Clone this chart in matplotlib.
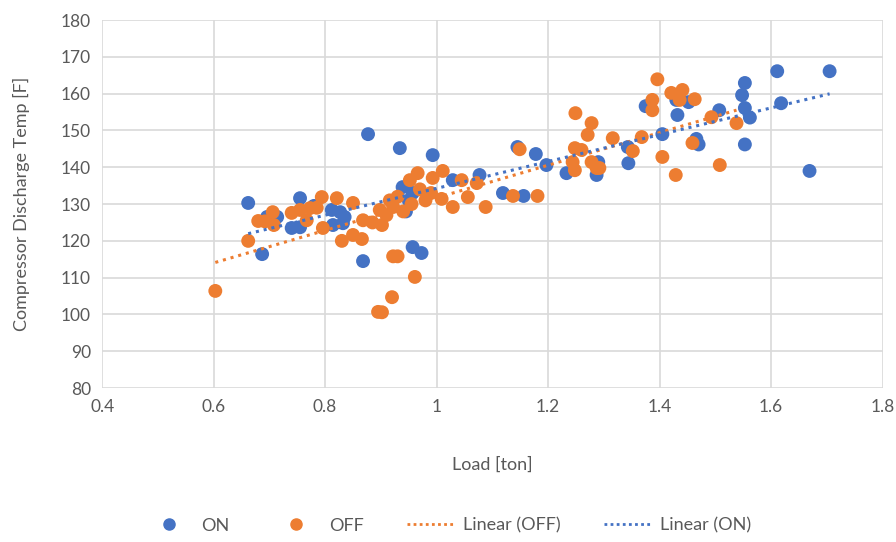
import numpy as np
import matplotlib.pyplot as plt
from matplotlib.lines import Line2D

# ON series (load [ton], discharge temp [F])
on_load = [0.662, 0.687, 0.696, 0.714, 0.740, 0.755, 0.755, 0.780, 0.812, 0.827,
           0.835, 0.814, 0.832, 0.868, 0.877, 0.934, 0.939, 0.957, 0.945, 0.950,
           0.957, 0.973, 0.993, 1.029, 1.077, 1.119, 1.156, 1.145, 1.178, 1.197,
           1.233, 1.287, 1.290, 1.344, 1.343, 1.375, 1.405, 1.432, 1.430, 1.452,
           1.466, 1.470, 1.507, 1.553, 1.548, 1.553, 1.562, 1.553, 1.611, 1.618,
           1.669, 1.705]
on_temp = [130.3, 116.4, 126.5, 126.5, 123.5, 123.7, 131.6, 129.5, 128.4, 127.8,
           126.5, 124.3, 124.8, 114.5, 149.0, 145.2, 134.6, 133.0, 128.0, 131.0,
           118.3, 116.7, 143.3, 136.5, 137.9, 133.0, 132.2, 145.5, 143.6, 140.6,
           138.4, 137.9, 141.4, 141.1, 145.5, 156.6, 149.0, 154.2, 158.3, 157.7,
           147.7, 146.2, 155.5, 162.9, 159.6, 156.1, 153.5, 146.2, 166.1, 157.4,
           139.0, 166.1]

# OFF series
off_load = [0.603, 0.662, 0.680, 0.692, 0.706, 0.708, 0.740, 0.755, 0.767, 0.773,
            0.785, 0.794, 0.796, 0.821, 0.830, 0.850, 0.850, 0.866, 0.868, 0.885,
            0.895, 0.902, 0.898, 0.902, 0.910, 0.916, 0.922, 0.920, 0.922, 0.930,
            0.930, 0.940, 0.955, 0.961, 0.952, 0.966, 0.970, 0.980, 0.990, 0.993,
            1.009, 1.011, 1.029, 1.045, 1.056, 1.072, 1.088, 1.137, 1.149, 1.181,
            1.244, 1.248, 1.248, 1.249, 1.260, 1.271, 1.278, 1.278, 1.287, 1.292,
            1.316, 1.352, 1.368, 1.387, 1.387, 1.396, 1.405, 1.421, 1.429, 1.436,
            1.441, 1.459, 1.463, 1.493, 1.508, 1.538]
off_temp = [106.4, 120.0, 125.4, 125.3, 127.8, 124.3, 127.6, 128.4, 125.6, 128.9,
            129.0, 131.9, 123.5, 131.6, 120.0, 121.6, 130.3, 120.5, 125.6, 125.0,
            100.7, 100.6, 128.4, 124.3, 127.0, 131.0, 129.2, 104.7, 115.8, 115.8,
            132.0, 128.0, 130.0, 110.2, 136.5, 138.4, 134.0, 131.0, 133.0, 137.1,
            131.4, 139.0, 129.2, 136.5, 131.9, 135.7, 129.2, 132.2, 144.9, 132.2,
            141.4, 139.2, 145.2, 154.7, 144.7, 148.8, 152.0, 141.4, 139.8, 139.8,
            147.9, 144.4, 148.2, 158.3, 155.5, 163.9, 142.8, 160.2, 137.9, 158.3,
            161.0, 146.6, 158.5, 153.6, 140.6, 152.0]

blue = '#4472C4'
orange = '#ED7D31'
gray = '#595959'
font = 'Lato'

fig = plt.figure(figsize=(8.96, 5.42), dpi=100)
ax = fig.add_axes([0.114, 0.284, 0.871, 0.679])

ax.scatter(on_load, on_temp, s=100, color=blue, edgecolors='none', zorder=3)
ax.scatter(off_load, off_temp, s=100, color=orange, edgecolors='none', zorder=3)

# linear trendlines over each series' range
for xs, ys, c in [(off_load, off_temp, orange), (on_load, on_temp, blue)]:
    k, b = np.polyfit(xs, ys, 1)
    xx = np.array([min(xs), max(xs)])
    ax.plot(xx, k * xx + b, color=c, lw=2.2, linestyle=(0, (1, 1.6)), zorder=4)

ax.set_xlim(0.4, 1.8)
ax.set_ylim(80, 180)
ax.set_xticks(np.arange(0.4, 1.81, 0.2))
ax.set_xticklabels(['0.4', '0.6', '0.8', '1', '1.2', '1.4', '1.6', '1.8'])
ax.set_yticks(range(80, 181, 10))
ax.grid(True, color='#d9d9d9', lw=1.2)
ax.set_axisbelow(True)
for sp in ax.spines.values():
    sp.set_visible(False)
ax.tick_params(length=0, labelsize=12.5, labelcolor=gray, pad=8)
for lab in ax.get_xticklabels() + ax.get_yticklabels():
    lab.set_fontfamily(font)

ax.set_xlabel('Load [ton]', fontsize=13, color=gray, family=font, labelpad=30)
ax.set_ylabel('Compressor Discharge Temp [F]', fontsize=13, color=gray, family=font, labelpad=22)

handles = [
    Line2D([], [], marker='o', ls='none', color=blue, markersize=8),
    Line2D([], [], marker='o', ls='none', color=orange, markersize=8),
    Line2D([], [], color=orange, lw=2, linestyle=(0, (1, 1.2))),
    Line2D([], [], color=blue, lw=2, linestyle=(0, (1, 1.2))),
]
fig.legend(handles, ['ON', 'OFF', 'Linear (OFF)', 'Linear (ON)'],
           loc='center', bbox_to_anchor=(0.5, 0.03), ncol=4, frameon=False,
           prop={'family': font, 'size': 13}, labelcolor=gray,
           handlelength=2.6, columnspacing=2.4, handletextpad=0.5)

fig.savefig('out.png', dpi=100)
